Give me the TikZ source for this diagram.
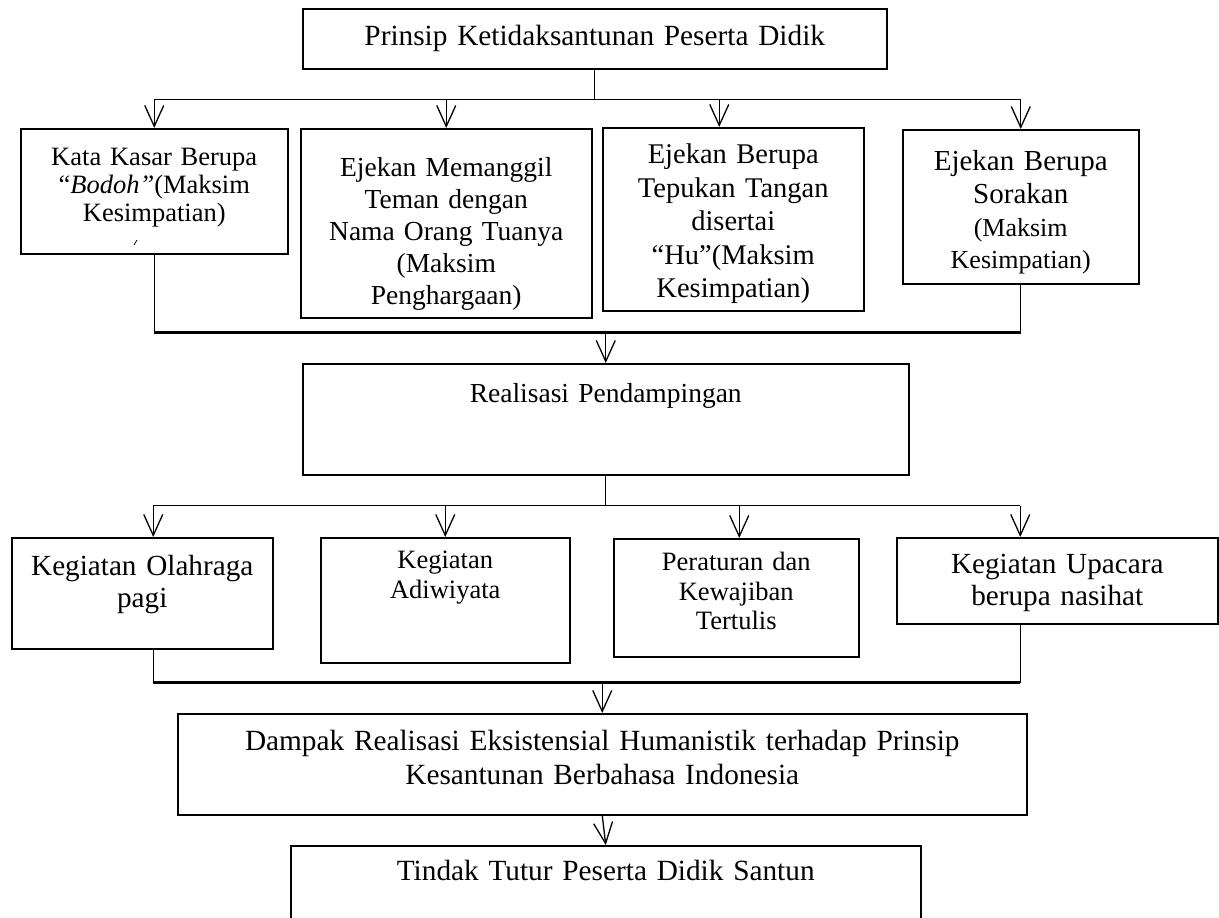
\documentclass[tikz,border=0pt]{standalone}
\usepackage{fontspec}
\setmainfont{Liberation Serif}
\usetikzlibrary{arrows.meta}
\newcommand\ukBesar{\fontsize{29.3bp}{34bp}\selectfont}
\newcommand\ukKasar{\fontsize{26.5bp}{28bp}\selectfont}
\newcommand\ukPanggil{\fontsize{27.5bp}{32bp}\selectfont}
\newcommand\ukTepuk{\fontsize{28.5bp}{33.5bp}\selectfont}
\newcommand\ukSorak{\fontsize{29bp}{32.7bp}\selectfont}
\newcommand\ukKecil{\fontsize{26bp}{32.7bp}\selectfont}
\newcommand\ukReal{\fontsize{27.5bp}{30bp}\selectfont}
\newcommand\ukOlah{\fontsize{29.2bp}{32bp}\selectfont}
\newcommand\ukAdi{\fontsize{26.5bp}{30bp}\selectfont}
\newcommand\ukAtur{\fontsize{26.5bp}{29.5bp}\selectfont}
\newcommand\ukUpacara{\fontsize{29.2bp}{32bp}\selectfont}
\begin{document}
\begin{tikzpicture}[x=1bp,y=-1bp,
    kotak/.style={draw,line width=1.5bp,inner sep=0pt,align=center,anchor=north west},
    garis/.style={line width=1.3bp},
    bus/.style={line width=1.9bp},
    tebal/.style={line width=2.6bp},
    panah/.style={line width=1.3bp,-{Straight Barb[length=21bp,width=19bp]}}]
  \useasboundingbox (0,0) rectangle (1219,918);
  \clip (0,0) rectangle (1219,918);
  % judul
  \node[kotak,text width=584bp,text height=37bp,text depth=23bp,font=\ukBesar] (prinsip) at (302,8)
    {Prinsip Ketidaksantunan Peserta Didik};
  % bentuk ketidaksantunan
  \node[kotak,text width=267bp,text height=37bp,text depth=88bp,font=\ukKasar] (kasar) at (20,128)
    {Kata Kasar Berupa\\``\textit{Bodoh''}(Maksim\\Kesimpatian)};
  \node[kotak,text width=291bp,text height=48bp,text depth=141bp,font=\ukPanggil] (panggil) at (300,128)
    {Ejekan Memanggil\\Teman dengan\\Nama Orang Tuanya\\(Maksim\\Penghargaan)};
  \node[kotak,text width=261bp,text height=36bp,text depth=147bp,font=\ukTepuk] (tepuk) at (602,127)
    {Ejekan Berupa\\Tepukan Tangan\\disertai\\``Hu''(Maksim\\Kesimpatian)};
  \node[kotak,text width=236bp,text height=41bp,text depth=113bp,font=\ukSorak] (sorak) at (902,129)
    {Ejekan Berupa\\Sorakan\\{\ukKecil(Maksim\\Kesimpatian)}};
  \draw[line width=0.8bp] (134,245) -- (137,240);
  % pendampingan
  \node[kotak,text width=606bp,text height=39bp,text depth=72bp,font=\ukReal] (realisasi) at (302,363)
    {Realisasi Pendampingan};
  \node[kotak,text width=261bp,text height=38bp,text depth=73bp,font=\ukOlah] (olah) at (11,537)
    {Kegiatan Olahraga\\pagi};
  \node[kotak,text width=249bp,text height=31bp,text depth=94bp,font=\ukAdi] (adi) at (320,537)
    {Kegiatan\\Adiwiyata};
  \node[kotak,text width=245bp,text height=32bp,text depth=86bp,font=\ukAtur] (atur) at (613,538)
    {Peraturan dan\\Kewajiban\\Tertulis};
  \node[kotak,text width=321bp,text height=36bp,text depth=50bp,font=\ukUpacara] (upacara) at (896,537)
    {Kegiatan Upacara\\berupa nasihat};
  % dampak
  \node[kotak,text width=849bp,text height=37bp,text depth=64bp,font=\ukBesar] (dampak) at (177,713)
    {Dampak Realisasi Eksistensial Humanistik terhadap Prinsip\\Kesantunan Berbahasa Indonesia};
  \node[kotak,text width=630bp,text height=35bp,text depth=110bp,font=\ukBesar] (tindak) at (290,845)
    {Tindak Tutur Peserta Didik Santun};
  % titik cabang
  \coordinate (t3) at ([xshift=-14bp]tepuk.north);
  \coordinate (pa) at ([xshift=11bp]olah.north);
  \coordinate (pc) at ([xshift=3bp]atur.north);
  \coordinate (pd) at ([xshift=-37bp]upacara.north);
  % cabang atas
  \draw[garis] (prinsip.south) -- ++(0,30) coordinate (bus1);
  \draw[bus] (bus1 -| kasar.north) -- (bus1 -| sorak.north);
  \draw[panah] (bus1 -| kasar.north) -- (kasar.north);
  \draw[panah] (bus1 -| panggil.north) -- (panggil.north);
  \draw[panah] (t3 |- bus1) -- (t3);
  \draw[panah] (bus1 -| sorak.north) -- (sorak.north);
  % gabung ke pendampingan
  \draw[garis] (kasar.south) -- ++(0,78) coordinate (bus2);
  \draw[garis] (sorak.south) -- (sorak.south |- bus2);
  \draw[tebal] (bus2) -- (sorak.south |- bus2);
  \draw[panah] (bus2 -| realisasi.north) -- (realisasi.north);
  % cabang kegiatan
  \draw[garis] (realisasi.south) -- ++(0,30) coordinate (bus3);
  \draw[bus] (pa |- bus3) -- (pd |- bus3);
  \draw[panah] (pa |- bus3) -- (pa);
  \draw[panah] (bus3 -| adi.north) -- (adi.north);
  \draw[panah] (pc |- bus3) -- (pc);
  \draw[panah] (pd |- bus3) -- (pd);
  % gabung ke dampak
  \draw[garis] (pa |- olah.south) -- ++(0,33) coordinate (bus4);
  \draw[garis] (pd |- upacara.south) -- (pd |- bus4);
  \draw[tebal] (bus4) -- (pd |- bus4);
  \draw[panah] (bus4 -| dampak.north) -- (dampak.north);
  \draw[panah] (dampak.south) -- (tindak.north);
\end{tikzpicture}
\end{document}
